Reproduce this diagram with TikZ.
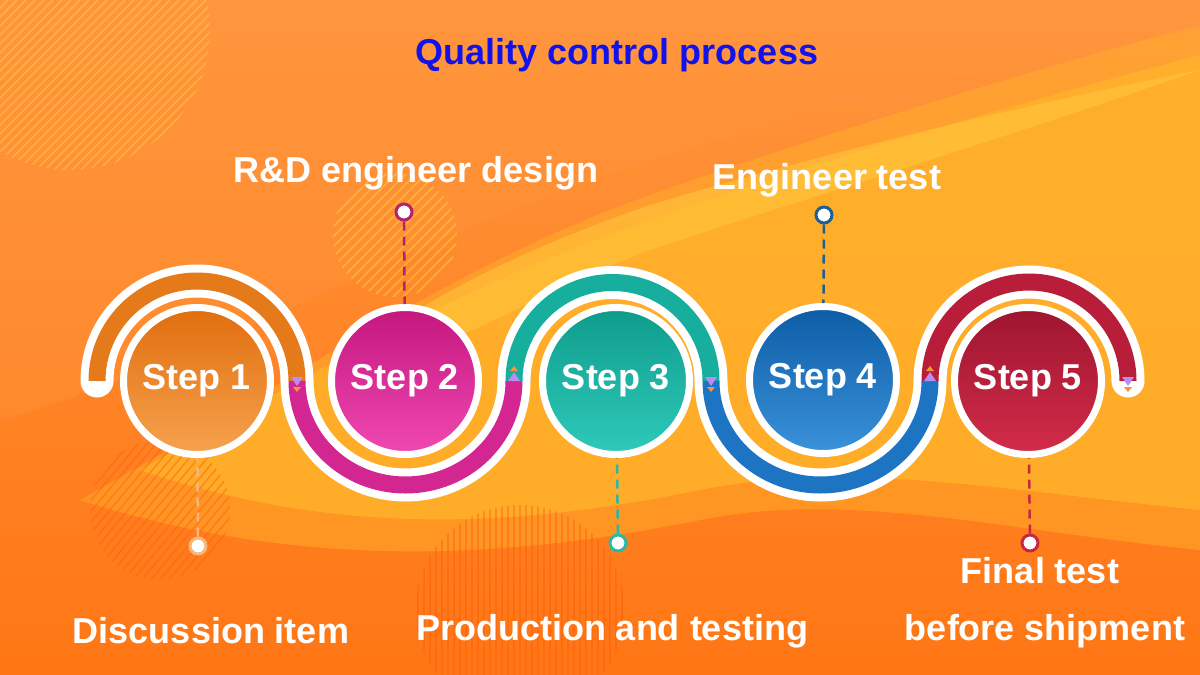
\documentclass[tikz,border=0pt]{standalone}
\usepackage{fontspec}
\setmainfont{Liberation Sans}
\definecolor{bgtop}{RGB}{255,150,62}
\definecolor{bgbot}{RGB}{255,118,20}
\definecolor{wave}{RGB}{255,180,42}
\definecolor{wavehi}{RGB}{255,200,60}
\definecolor{titleblue}{RGB}{18,18,235}
\definecolor{mk1}{RGB}{185,140,242}
\definecolor{mk2}{RGB}{243,150,55}
\definecolor{ca1}{RGB}{224,110,14}\definecolor{cb1}{RGB}{247,162,78}\definecolor{band1}{RGB}{228,122,26}\definecolor{dl1}{RGB}{247,183,124}
\definecolor{ca2}{RGB}{196,23,126}\definecolor{cb2}{RGB}{240,72,178}\definecolor{band2}{RGB}{212,38,144}\definecolor{dl2}{RGB}{179,35,111}
\definecolor{ca3}{RGB}{14,156,140}\definecolor{cb3}{RGB}{47,202,186}\definecolor{band3}{RGB}{23,174,158}\definecolor{dl3}{RGB}{42,183,165}
\definecolor{ca4}{RGB}{13,92,166}\definecolor{cb4}{RGB}{58,146,218}\definecolor{band4}{RGB}{28,116,194}\definecolor{dl4}{RGB}{31,95,148}
\definecolor{ca5}{RGB}{158,21,48}\definecolor{cb5}{RGB}{210,44,72}\definecolor{band5}{RGB}{184,29,58}\definecolor{dl5}{RGB}{198,40,66}
\begin{document}
\begin{tikzpicture}[x=1pt,y=-1pt,
  lbl/.style={font=\fontsize{36}{40}\selectfont\bfseries, text=white, inner sep=0pt},
  stepcirc/.style={circle, minimum size=147pt, inner sep=0pt, draw=white, line width=7pt,
     font=\fontsize{36}{40}\selectfont\bfseries, text=white},
  dotn/.style={circle, fill=white, minimum size=16pt, inner sep=0pt, line width=3pt},
  dashline/.style={line width=2.5pt, dash pattern=on 9pt off 6pt},
  whiteband/.style={white, line width=33pt, line cap=round},
  colband/.style={line width=17pt, line cap=butt},
  hatch/.style={line width=1.6pt}
]
\useasboundingbox (0,0) rectangle (1200,675);
% background
\shade[top color=bgtop, bottom color=bgbot] (0,0) rectangle (1200,675);
\fill[wave, opacity=0.45] (80,500) .. controls (280,390) and (440,270) .. (650,195)
  .. controls (850,125) and (1050,65) .. (1200,25) -- (1200,550)
  .. controls (1000,530) and (850,490) .. (700,520)
  .. controls (550,550) and (330,580) .. (80,500) -- cycle;
\fill[wave, opacity=0.75] (140,470) .. controls (310,375) and (460,285) .. (650,220)
  .. controls (850,150) and (1050,95) .. (1200,55) -- (1200,510)
  .. controls (1000,490) and (850,460) .. (700,490)
  .. controls (550,520) and (360,545) .. (140,470) -- cycle;
\fill[wavehi, opacity=0.55] (330,370) .. controls (420,300) and (520,250) .. (650,205)
  .. controls (800,160) and (1000,110) .. (1200,70)
  .. controls (1000,140) and (800,200) .. (650,250)
  .. controls (520,300) and (420,370) .. (330,370) -- cycle;
\fill[bgtop, opacity=0.35] (0,0) -- (1200,0) -- (1200,30) .. controls (900,80) and (600,160) .. (350,280) .. controls (200,350) and (80,400) .. (0,420) -- cycle;
% hatched decorations
\begin{scope}
  \clip (70,30) circle[radius=140];
  \foreach \i in {-400,-391,...,400} \draw[hatch, wavehi, opacity=0.55] (\i,300) -- (\i+300,0);
\end{scope}
\begin{scope}
  \clip (395,235) circle[radius=62];
  \foreach \i in {0,10,...,600} \draw[hatch, wavehi, opacity=0.6] (\i,320) -- (\i+150,170);
\end{scope}
\begin{scope}
  \clip (160,510) circle[radius=70];
  \foreach \i in {-100,-91,...,400} \draw[hatch, bgbot!80!red, opacity=0.45] (\i,600) -- (\i+150,420);
\end{scope}
\begin{scope}
  \clip (520,610) circle[radius=105];
  \foreach \i in {400,406,...,650} \draw[line width=1.4pt, bgbot!75!red, opacity=0.4] (\i,500) -- (\i,720);
\end{scope}
% band
\draw[whiteband] (97,381) arc[start angle=180,end angle=360,radius=100]
  arc[start angle=180,end angle=0,x radius=108.5,y radius=104]
  arc[start angle=180,end angle=360,radius=98.5]
  arc[start angle=180,end angle=0,x radius=109.5,y radius=104]
  arc[start angle=180,end angle=360,radius=99];
\draw[colband, band1] (97,381) arc[start angle=180,end angle=360,radius=100];
\draw[colband, band2] (297,381) arc[start angle=180,end angle=0,x radius=108.5,y radius=104];
\draw[colband, band3] (514,381) arc[start angle=180,end angle=360,radius=98.5];
\draw[colband, band4] (711,381) arc[start angle=180,end angle=0,x radius=109.5,y radius=104];
\draw[colband, band5] (930,381) arc[start angle=180,end angle=360,radius=99];
% markers
\foreach \x in {297,711,1128}{
  \fill[mk1] (\x-6,377) -- (\x+6,377) -- (\x,386) -- cycle;
  \fill[mk2] (\x-4,387) -- (\x+4,387) -- (\x,392) -- cycle;}
\foreach \x in {514,930}{
  \fill[mk1] (\x-6,381) -- (\x+6,381) -- (\x,372) -- cycle;
  \fill[mk2] (\x-4,371) -- (\x+4,371) -- (\x,366) -- cycle;}
% step circles
\node[stepcirc, top color=ca1, bottom color=cb1] (s1) at (197,381) {Step 1};
\node[stepcirc, top color=ca2, bottom color=cb2] (s2) at (405,381) {Step 2};
\node[stepcirc, top color=ca3, bottom color=cb3] (s3) at (616,381) {Step 3};
\node[stepcirc, top color=ca4, bottom color=cb4] (s4) at (823,380) {Step 4};
\node[stepcirc, top color=ca5, bottom color=cb5] (s5) at (1028,381) {Step 5};
% dots
\node[dotn, draw=dl1] (d1) at (198,546) {};
\node[dotn, draw=dl2] (d2) at (404,212) {};
\node[dotn, draw=dl3] (d3) at (618,543) {};
\node[dotn, draw=dl4] (d4) at (824,215) {};
\node[dotn, draw=dl5] (d5) at (1030,543) {};
\draw[dashline, dl1] (d1) -- (s1);
\draw[dashline, dl2] (d2) -- (s2);
\draw[dashline, dl3] (d3) -- (s3);
\draw[dashline, dl4] (d4) -- (s4);
\draw[dashline, dl5] (d5) -- (s5);
% texts
\node[lbl, text=titleblue] (title) at (617,55) {Quality control process};
\node[lbl] (t2) at (416,173) {R\&D engineer design};
\node[lbl] (t4) at (827,180) {Engineer test};
\node[lbl] (t1) at (211,631) {Discussion item};
\node[lbl] (t3) at (612,631) {Production and testing};
\node[lbl] (t5a) at (1040,571) {Final test};
\node[lbl] (t5b) at (1045,631) {before shipment};
\end{tikzpicture}
\end{document}
